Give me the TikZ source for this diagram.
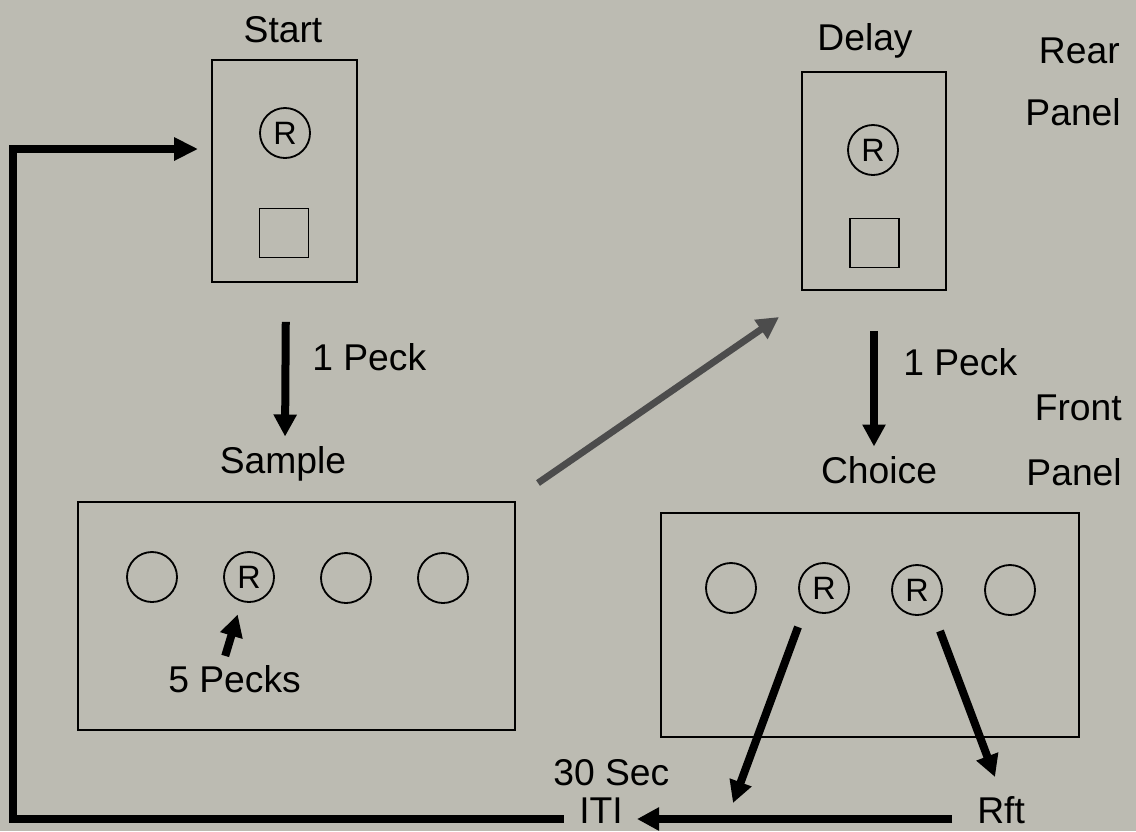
\documentclass[tikz,border=0pt]{standalone}
\usepackage{fontspec}
\setmainfont{Liberation Sans}
\usepackage{tikz}
\usetikzlibrary{positioning, arrows.meta}
\definecolor{paper}{RGB}{188,187,178}
\tikzset{
	every node/.append style={
		font=\fontsize{26.5}{30}\selectfont,
	},
	labe/.append style={
		inner sep=0mm,
		anchor=base,
	},
	panel/.append style={
		draw,
		line width=1.3pt,
		inner sep=0mm,
	},
	key/.append style={
		circle,
		draw,
		line width=1.3pt,
		minimum size=12.5mm,
		inner sep=0mm,
		font=\fontsize{23}{24}\selectfont
	},
	lamp/.append style={
		draw,
		line width=1.2pt,
		minimum size=12.3mm,
		inner sep=0mm,
	},
	peck/.append style={
		line width=2mm,
		-{Triangle[length=5.5mm, width=5.5mm]}
	},
	returnline/.append style={
		line width=2mm,
		line join=miter,
		-{Triangle[length=6mm, width=5.5mm]}
	}
}

\begin{document}
\begin{tikzpicture}[x=0.025cm, y=-0.025cm]
	\useasboundingbox[fill=paper] (0,0) rectangle (1136,831);
	
	% rear panel
	\node (startPanel)[panel, minimum width=36.25mm, minimum height=55.5mm] at (284.5,171) {};
	\node (startKey)[key] at (285,133) {R};
	\node (startLamp)[lamp] at (284,233) {};
	\node (startLbl)[labe] at (283,42) {Start};
	
	\node (delayPanel)[panel, minimum width=36mm, minimum height=54.5mm] at (874,181) {};
	\node (delayKey)[key] at (873,150) {R};
	\node (delayLamp)[lamp] at (874.5,243) {};
	\node (delayLbl)[labe] at (865,50) {Delay};
	
	\node (rearLbl)[labe, anchor=base east] at (1120,63) {Rear};
	\node (rearPanelLbl)[labe, anchor=base east] at (1121,125) {Panel};
	
	% front panel
	\node (samplePanel)[panel, minimum width=109.25mm, minimum height=57mm] at (296.5,616) {};
	\node (sampleA)[key] at (152,577) {};
	\node (sampleB)[key] at (249,577) {R};
	\node (sampleC)[key] at (346,578) {};
	\node (sampleD)[key] at (443,578) {};
	\node (sampleLbl)[labe] at (283,473) {Sample};
	
	\node (choicePanel)[panel, minimum width=104.5mm, minimum height=56mm] at (870,625) {};
	\node (choiceA)[key] at (731,588) {};
	\node (choiceB)[key] at (824,588) {R};
	\node (choiceC)[key] at (917,590) {R};
	\node (choiceD)[key] at (1010,590) {};
	\node (choiceLbl)[labe] at (879,483) {Choice};
	
	\node (frontLbl)[labe, anchor=base east] at (1122,420) {Front};
	\node (frontPanelLbl)[labe, anchor=base east] at (1122,485) {Panel};
	
	\node (peckLeft)[labe, anchor=base west] at (312,370) {1 Peck};
	\node (peckRight)[labe, anchor=base west] at (903,375) {1 Peck};
	\node (fivePecks)[labe, anchor=base west] at (168,692) {5 Pecks};
	\node (secLbl)[labe, anchor=base west] at (553,785) {30 Sec};
	\node (iti)[labe] at (601,823) {ITI};
	\node (rft)[labe, anchor=base west] at (977,823) {Rft};
	
	\coordinate (diagFrom) at (538,483);
	\coordinate (diagTo) at (779,317);
	\coordinate (toItiFrom) at (798,627);
	\coordinate (toIti) at (733,803);
	\coordinate (toRftFrom) at (940,631);
	\coordinate (toRft) at (995,777);
	\coordinate (itiTip) at (637,819);
	\coordinate (cornerLow) at (13,819);
	\coordinate (cornerHigh) at (13,149);
	
	\draw[peck, shorten <=9.75mm, shorten >=2.3mm] (startPanel.south -| startKey) ++(1,0) -- (sampleLbl.north -| startKey) ;
	\draw[peck, shorten <=10mm, shorten >=2.3mm] (delayPanel.south) -- (choiceLbl.north -| delayPanel);
	\draw[peck, draw=black!70, line width=1.7mm](diagFrom) to (diagTo);
	\draw[peck, shorten <=2.3mm, shorten >=3.3mm] ([xshift=-3mm]fivePecks.north) -- (sampleB);
	\draw[peck](toItiFrom) to (toIti);
	\draw[peck](toRftFrom) to (toRft);
	\draw[peck, shorten <=6.25mm] (rft.west |- itiTip) -- (itiTip);
	
	\draw[returnline, shorten <=3.75mm, shorten >=3.25mm] (iti.west |- itiTip) -- (cornerLow) -- (cornerHigh) -- (cornerHigh -| startPanel.west);
	
\end{tikzpicture}
\end{document}
